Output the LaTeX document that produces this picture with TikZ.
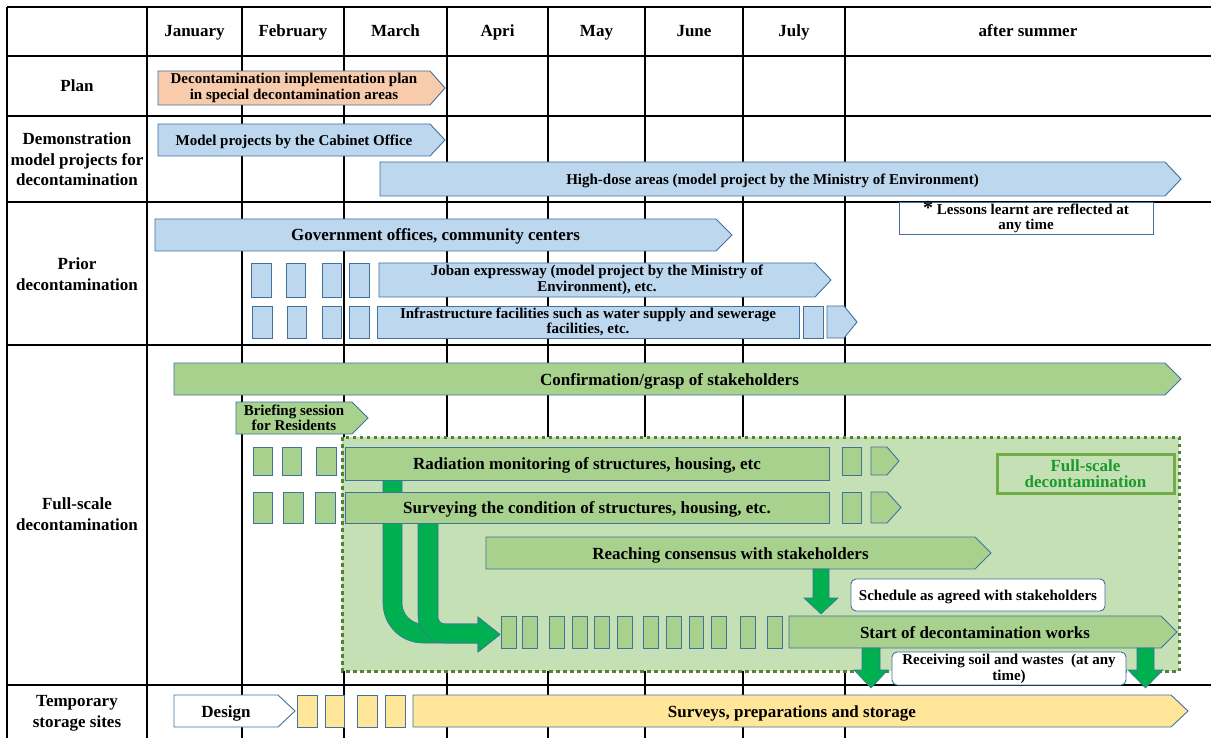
\documentclass[tikz,border=0pt]{standalone}
\usepackage{fontspec}
\setmainfont{Liberation Serif}
\definecolor{barblue}{HTML}{BDD7EE}
\definecolor{edgeblue}{HTML}{41719C}
\definecolor{bargreen}{HTML}{A9D18E}
\definecolor{zonegreen}{HTML}{C5E0B4}
\definecolor{zoneedge}{HTML}{548235}
\definecolor{arrowgreen}{HTML}{00B050}
\definecolor{barorange}{HTML}{F8CBAD}
\definecolor{baryellow}{HTML}{FFE699}
\definecolor{labelgreen}{HTML}{70AD47}
\definecolor{labeltext}{HTML}{1A9A2A}

% pentagon bar: name, style, x1, y1, x2 (tip), y2, x of notch, text style, text
\newcommand\pbar[9]{%
  \path[#2] (#3,#4) -- (#7,#4) -- (#5,{(#4+#6)/2}) -- (#7,#6) -- (#3,#6) -- cycle;
  \node[#8] (#1) at ({(#3+#7)/2},{(#4+#6)/2}) {#9};}
% rectangular bar: name, style, x1, y1, x2, y2, text style, text
\newcommand\rbar[8]{%
  \path[#2] (#3,#4) rectangle (#5,#6);
  \node[#7] (#1) at ({(#3+#5)/2},{(#4+#6)/2}) {#8};}
% block arrow pointing down: centre x, top y, head y, tip y, shaft half width, head half width
\newcommand\blockdown[6]{%
  \path[greenarrow] (#1-#5,#2) -- (#1-#5,#3) -- (#1-#6,#3) -- (#1,#4)
    -- (#1+#6,#3) -- (#1+#5,#3) -- (#1+#5,#2) -- cycle;}

\begin{document}
\begin{tikzpicture}[x=1pt,y=-1pt,
  gridline/.style={draw=black,line width=1.1pt},
  bluebar/.style={fill=barblue,draw=edgeblue,line width=0.9pt},
  greenbar/.style={fill=bargreen,draw=edgeblue,line width=0.9pt},
  orangebar/.style={fill=barorange,draw=edgeblue,line width=0.9pt},
  yellowbar/.style={fill=baryellow,draw=edgeblue,line width=0.9pt},
  whitebar/.style={fill=white,draw=edgeblue,line width=0.9pt},
  notebox/.style={fill=white,draw=edgeblue,line width=0.9pt},
  greenarrow/.style={fill=arrowgreen,draw=edgeblue,line width=0.6pt},
  zone/.style={fill=zonegreen,draw=zoneedge,line width=3pt,dash pattern=on 3.5pt off 3.5pt},
  headtxt/.style={font=\fontsize{17}{20.5}\selectfont\bfseries,align=center,inner sep=0pt},
  headone/.style={headtxt,text height=12pt,text depth=0pt},
  bigtxt/.style={font=\fontsize{17}{17}\selectfont\bfseries,align=center,inner sep=0pt,
    text height=12pt,text depth=0pt},
  smalltxt/.style={font=\fontsize{15}{15.5}\selectfont\bfseries,align=center,inner sep=0pt},
  smallone/.style={smalltxt,text height=10.5pt,text depth=0pt},
]
\useasboundingbox (0,0) rectangle (1211,738);
\fill[white] (0,0) rectangle (1211,738);

% table grid
\foreach \x in {7,147,242,344,447,548,645,743,845}
  \draw[gridline] (\x,7) -- (\x,738);
\foreach \y in {7,56,116,202,345,685}
  \draw[gridline] (7,\y) -- (1211,\y);

% column headings
\node[headone] (hjan) at (194.5,31) {January};
\node[headone] (hfeb) at (293,31) {February};
\node[headone] (hmar) at (395.5,31) {March};
\node[headone] (hapr) at (497.5,31) {Apri};
\node[headone] (hmay) at (596.5,31) {May};
\node[headone] (hjun) at (694,31) {June};
\node[headone] (hjul) at (794,31) {July};
\node[headone] (haft) at (1028,31) {after summer};

% row headings
\node[headone] (rplan) at (77,86) {Plan};
\node[headtxt] (rdemo) at (77,159.5) {Demonstration\\model projects for\\decontamination};
\node[headtxt] (rprior) at (77,274) {Prior\\decontamination};
\node[headtxt] (rfull) at (77,514) {Full-scale\\decontamination};
\node[headtxt] (rtemp) at (77,713.5) {Temporary\\storage sites};

% plan and demonstration projects
\pbar{plan}{orangebar}{158}{71}{445}{105}{430}{smalltxt}{Decontamination implementation plan\\in special decontamination areas}
\pbar{cabinet}{bluebar}{158}{124}{445}{156}{430}{smallone}{Model projects by the Cabinet Office}
\pbar{highdose}{bluebar}{380}{162}{1181}{196}{1165}{smallone}{High-dose areas (model project by the Ministry of Environment)}

% prior decontamination
\path[notebox] (899,202) rectangle (1153,234);
\node[smalltxt] (lessons) at (1026,217) {{\fontsize{20}{15}\selectfont *} Lessons learnt are reflected at\\any time};
\pbar{govt}{bluebar}{155}{219}{732}{251}{716}{bigtxt}{Government offices, community centers}
\foreach \a/\b in {251/271,286/305,322/341,349/369}
  \path[bluebar] (\a,263) rectangle (\b,297);
\pbar{joban}{bluebar}{379}{263}{831}{297}{815}{smalltxt}{Joban expressway (model project by the Ministry of\\Environment), etc.}
\foreach \a/\b in {252/272,287/306,322/341,349/369,803/823}
  \path[bluebar] (\a,306) rectangle (\b,338);
\rbar{infra}{bluebar}{377}{306}{799}{338}{smalltxt}{Infrastructure facilities such as water supply and sewerage\\facilities, etc.}
\pbar{infratail}{bluebar}{827}{306}{857}{338}{844}{smallone}{}

% full-scale decontamination
\pbar{confirm}{greenbar}{174}{363}{1181}{395}{1165}{bigtxt}{Confirmation/grasp of stakeholders}
\pbar{briefing}{greenbar}{236}{402}{368}{434}{352}{smalltxt}{Briefing session\\for Residents}
\path[zone] (342,437) rectangle (1179,671);

\path[draw=labelgreen,line width=3pt] (997,454) rectangle (1174,493);
\node[font=\fontsize{17}{16.5}\selectfont\bfseries,align=center,inner sep=0pt,text=labeltext] (fulllabel) at (1085.5,473.5) {Full-scale\\decontamination};

% curved block arrows into the works schedule
\path[greenarrow] (383,480) -- (383,603) .. controls (383,625.1) and (400.9,643) .. (423,643)
  -- (478,643) -- (478,652) -- (500,634.5) -- (478,617) -- (478,624) -- (423,624)
  .. controls (411.4,624) and (402,614.6) .. (402,603) -- (402,480) -- cycle;
\path[greenarrow] (418,523) -- (418,616) .. controls (418,630.9) and (430.1,643) .. (445,643)
  -- (478,643) -- (478,652) -- (500,634.5) -- (478,617) -- (478,624) -- (445,624)
  .. controls (441.1,624) and (438,620.9) .. (438,617) -- (438,523) -- cycle;

\foreach \a/\b in {253/272,282/301,316/336,842/861}
  \path[greenbar] (\a,447) rectangle (\b,475);
\rbar{radiation}{greenbar}{345}{447}{829}{480}{bigtxt}{Radiation monitoring of structures, housing, etc}
\pbar{radtail}{greenbar}{871}{447}{899}{475}{887}{smallone}{}

\foreach \a/\b in {253/272,283/303,315/335,842/861}
  \path[greenbar] (\a,492) rectangle (\b,523);
\rbar{survey}{greenbar}{345}{492}{829}{523}{bigtxt}{Surveying the condition of structures, housing, etc.}
\pbar{surtail}{greenbar}{871}{492}{901}{523}{887}{smallone}{}

\pbar{consensus}{greenbar}{486}{537}{991}{569}{975}{bigtxt}{Reaching consensus with stakeholders}
\blockdown{821}{569}{598}{614}{8}{17}

\path[notebox,rounded corners=5pt] (851,579) rectangle (1105,611);
\node[smallone] (schedule) at (978,595) {Schedule as agreed with stakeholders};

\foreach \a/\b in {501/516,522/537,549/564,572/587,594/609,617/632,643/658,666/681,689/703,711/726,740/755,767/782}
  \path[greenbar] (\a,616) rectangle (\b,648);
\pbar{startworks}{greenbar}{789}{616}{1177}{648}{1161}{bigtxt}{Start of decontamination works}

\blockdown{871}{648}{670}{688}{9}{17}
\blockdown{1145.5}{648}{670}{688}{8.5}{17.5}
\path[notebox,rounded corners=5pt] (892,652) rectangle (1126,685);
\node[smalltxt] (receiving) at (1009,669) {Receiving soil and wastes\ \ (at any\\time)};

% temporary storage sites
\pbar{design}{whitebar}{174}{695}{295}{727}{278}{bigtxt}{Design}
\foreach \a/\b in {297/317,325/344,357/377,385/405}
  \path[yellowbar] (\a,695) rectangle (\b,727);
\pbar{surveys}{yellowbar}{413}{695}{1188}{727}{1171}{bigtxt}{Surveys, preparations and storage}
\end{tikzpicture}
\end{document}
